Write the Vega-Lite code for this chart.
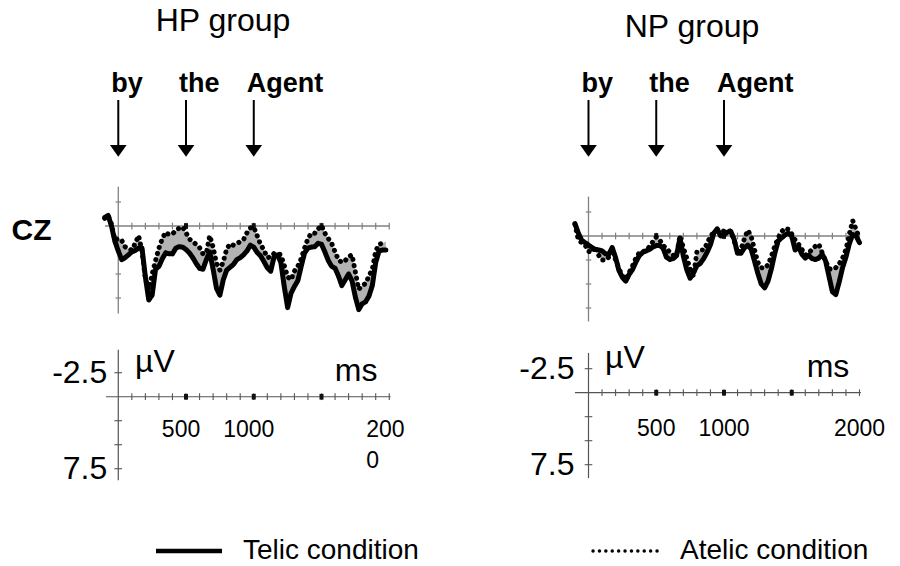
{
  "$schema": "https://vega.github.io/schema/vega-lite/v6.json",
  "padding": 0,
  "background": "white",
  "config": {
    "view": {"stroke": null},
    "font": "Liberation Sans",
    "text": {"font": "Liberation Sans", "color": "black"}
  },
  "datasets": {
    "w": [
      {"g":"HP","ms":-100,"Telic condition":-0.9,"Atelic condition":-0.8},
      {"g":"HP","ms":-75,"Telic condition":-1.1,"Atelic condition":-1.1},
      {"g":"HP","ms":-50,"Telic condition":0.0,"Atelic condition":-0.2},
      {"g":"HP","ms":-25,"Telic condition":1.6,"Atelic condition":1.45},
      {"g":"HP","ms":0,"Telic condition":2.6,"Atelic condition":1.3},
      {"g":"HP","ms":25,"Telic condition":3.5,"Atelic condition":1.5},
      {"g":"HP","ms":50,"Telic condition":3.3,"Atelic condition":2.15},
      {"g":"HP","ms":75,"Telic condition":3.0,"Atelic condition":2.4},
      {"g":"HP","ms":100,"Telic condition":2.7,"Atelic condition":2.5},
      {"g":"HP","ms":125,"Telic condition":2.55,"Atelic condition":1.8},
      {"g":"HP","ms":150,"Telic condition":2.3,"Atelic condition":1.0},
      {"g":"HP","ms":175,"Telic condition":2.3,"Atelic condition":2.6},
      {"g":"HP","ms":200,"Telic condition":5.3,"Atelic condition":5.5},
      {"g":"HP","ms":225,"Telic condition":7.7,"Atelic condition":6.6},
      {"g":"HP","ms":250,"Telic condition":7.2,"Atelic condition":5.0},
      {"g":"HP","ms":275,"Telic condition":4.5,"Atelic condition":3.6},
      {"g":"HP","ms":300,"Telic condition":4.2,"Atelic condition":2.3},
      {"g":"HP","ms":325,"Telic condition":3.4,"Atelic condition":1.3},
      {"g":"HP","ms":350,"Telic condition":2.8,"Atelic condition":0.65},
      {"g":"HP","ms":375,"Telic condition":2.9,"Atelic condition":0.9},
      {"g":"HP","ms":400,"Telic condition":2.9,"Atelic condition":0.8},
      {"g":"HP","ms":425,"Telic condition":2.3,"Atelic condition":0.5},
      {"g":"HP","ms":450,"Telic condition":2.15,"Atelic condition":0.2},
      {"g":"HP","ms":475,"Telic condition":2.2,"Atelic condition":0.1},
      {"g":"HP","ms":500,"Telic condition":2.45,"Atelic condition":0.7},
      {"g":"HP","ms":525,"Telic condition":2.8,"Atelic condition":1.35},
      {"g":"HP","ms":550,"Telic condition":3.3,"Atelic condition":1.65},
      {"g":"HP","ms":575,"Telic condition":3.9,"Atelic condition":1.9},
      {"g":"HP","ms":600,"Telic condition":4.4,"Atelic condition":2.25},
      {"g":"HP","ms":625,"Telic condition":4.5,"Atelic condition":2.9},
      {"g":"HP","ms":650,"Telic condition":3.5,"Atelic condition":2.8},
      {"g":"HP","ms":675,"Telic condition":2.7,"Atelic condition":1.0},
      {"g":"HP","ms":700,"Telic condition":4.5,"Atelic condition":2.2},
      {"g":"HP","ms":725,"Telic condition":6.5,"Atelic condition":3.9},
      {"g":"HP","ms":750,"Telic condition":7.2,"Atelic condition":4.6},
      {"g":"HP","ms":775,"Telic condition":5.6,"Atelic condition":3.7},
      {"g":"HP","ms":800,"Telic condition":4.6,"Atelic condition":2.4},
      {"g":"HP","ms":825,"Telic condition":4.3,"Atelic condition":1.85},
      {"g":"HP","ms":850,"Telic condition":4.0,"Atelic condition":2.0},
      {"g":"HP","ms":875,"Telic condition":3.5,"Atelic condition":1.85},
      {"g":"HP","ms":900,"Telic condition":3.3,"Atelic condition":1.6},
      {"g":"HP","ms":925,"Telic condition":3.0,"Atelic condition":1.4},
      {"g":"HP","ms":950,"Telic condition":2.6,"Atelic condition":0.7},
      {"g":"HP","ms":975,"Telic condition":2.0,"Atelic condition":0.2},
      {"g":"HP","ms":1000,"Telic condition":2.2,"Atelic condition":0.1},
      {"g":"HP","ms":1025,"Telic condition":2.75,"Atelic condition":1.0},
      {"g":"HP","ms":1050,"Telic condition":3.1,"Atelic condition":1.9},
      {"g":"HP","ms":1075,"Telic condition":3.7,"Atelic condition":2.5},
      {"g":"HP","ms":1100,"Telic condition":4.35,"Atelic condition":3.3},
      {"g":"HP","ms":1125,"Telic condition":4.7,"Atelic condition":3.2},
      {"g":"HP","ms":1150,"Telic condition":3.2,"Atelic condition":2.85},
      {"g":"HP","ms":1175,"Telic condition":3.0,"Atelic condition":2.85},
      {"g":"HP","ms":1200,"Telic condition":3.8,"Atelic condition":3.0},
      {"g":"HP","ms":1225,"Telic condition":6.3,"Atelic condition":4.1},
      {"g":"HP","ms":1250,"Telic condition":8.5,"Atelic condition":5.3},
      {"g":"HP","ms":1275,"Telic condition":7.0,"Atelic condition":5.6},
      {"g":"HP","ms":1300,"Telic condition":6.3,"Atelic condition":4.7},
      {"g":"HP","ms":1325,"Telic condition":5.7,"Atelic condition":4.2},
      {"g":"HP","ms":1350,"Telic condition":4.2,"Atelic condition":3.4},
      {"g":"HP","ms":1375,"Telic condition":2.8,"Atelic condition":2.3},
      {"g":"HP","ms":1400,"Telic condition":2.3,"Atelic condition":1.3},
      {"g":"HP","ms":1425,"Telic condition":2.2,"Atelic condition":0.75},
      {"g":"HP","ms":1450,"Telic condition":2.15,"Atelic condition":0.75},
      {"g":"HP","ms":1475,"Telic condition":1.8,"Atelic condition":0.3},
      {"g":"HP","ms":1500,"Telic condition":1.9,"Atelic condition":-0.05},
      {"g":"HP","ms":1525,"Telic condition":2.7,"Atelic condition":0.75},
      {"g":"HP","ms":1550,"Telic condition":3.6,"Atelic condition":1.3},
      {"g":"HP","ms":1575,"Telic condition":4.2,"Atelic condition":1.8},
      {"g":"HP","ms":1600,"Telic condition":4.4,"Atelic condition":2.7},
      {"g":"HP","ms":1625,"Telic condition":5.2,"Atelic condition":3.5},
      {"g":"HP","ms":1650,"Telic condition":6.2,"Atelic condition":3.8},
      {"g":"HP","ms":1675,"Telic condition":5.6,"Atelic condition":3.6},
      {"g":"HP","ms":1700,"Telic condition":5.0,"Atelic condition":3.2},
      {"g":"HP","ms":1725,"Telic condition":5.7,"Atelic condition":3.0},
      {"g":"HP","ms":1750,"Telic condition":7.4,"Atelic condition":4.8},
      {"g":"HP","ms":1775,"Telic condition":8.7,"Atelic condition":6.6},
      {"g":"HP","ms":1800,"Telic condition":8.1,"Atelic condition":6.2},
      {"g":"HP","ms":1825,"Telic condition":7.9,"Atelic condition":6.0},
      {"g":"HP","ms":1850,"Telic condition":7.3,"Atelic condition":5.2},
      {"g":"HP","ms":1875,"Telic condition":6.2,"Atelic condition":4.5},
      {"g":"HP","ms":1900,"Telic condition":3.8,"Atelic condition":2.6},
      {"g":"HP","ms":1925,"Telic condition":2.6,"Atelic condition":1.9},
      {"g":"HP","ms":1950,"Telic condition":2.5,"Atelic condition":1.8},
      {"g":"HP","ms":1975,"Telic condition":2.5,"Atelic condition":1.6},
      {"g":"NP","ms":-100,"Telic condition":-1.3,"Atelic condition":-1.2},
      {"g":"NP","ms":-75,"Telic condition":-0.3,"Atelic condition":0.4},
      {"g":"NP","ms":-50,"Telic condition":0.45,"Atelic condition":0.7},
      {"g":"NP","ms":-25,"Telic condition":0.7,"Atelic condition":0.94},
      {"g":"NP","ms":0,"Telic condition":0.94,"Atelic condition":1.6},
      {"g":"NP","ms":25,"Telic condition":1.2,"Atelic condition":1.7},
      {"g":"NP","ms":50,"Telic condition":1.4,"Atelic condition":1.1},
      {"g":"NP","ms":75,"Telic condition":1.46,"Atelic condition":2.0},
      {"g":"NP","ms":100,"Telic condition":1.55,"Atelic condition":2.5},
      {"g":"NP","ms":125,"Telic condition":1.85,"Atelic condition":2.5},
      {"g":"NP","ms":150,"Telic condition":1.9,"Atelic condition":2.2},
      {"g":"NP","ms":175,"Telic condition":1.2,"Atelic condition":1.4},
      {"g":"NP","ms":200,"Telic condition":2.25,"Atelic condition":2.5},
      {"g":"NP","ms":225,"Telic condition":3.6,"Atelic condition":3.4},
      {"g":"NP","ms":250,"Telic condition":4.3,"Atelic condition":4.15},
      {"g":"NP","ms":275,"Telic condition":4.7,"Atelic condition":4.5},
      {"g":"NP","ms":300,"Telic condition":4.0,"Atelic condition":3.8},
      {"g":"NP","ms":325,"Telic condition":3.5,"Atelic condition":3.1},
      {"g":"NP","ms":350,"Telic condition":2.7,"Atelic condition":2.3},
      {"g":"NP","ms":375,"Telic condition":2.05,"Atelic condition":1.75},
      {"g":"NP","ms":400,"Telic condition":1.7,"Atelic condition":1.6},
      {"g":"NP","ms":425,"Telic condition":1.55,"Atelic condition":1.55},
      {"g":"NP","ms":450,"Telic condition":1.4,"Atelic condition":1.1},
      {"g":"NP","ms":475,"Telic condition":1.15,"Atelic condition":0.6},
      {"g":"NP","ms":500,"Telic condition":1.0,"Atelic condition":0.1},
      {"g":"NP","ms":525,"Telic condition":1.0,"Atelic condition":0.4},
      {"g":"NP","ms":550,"Telic condition":1.25,"Atelic condition":1.0},
      {"g":"NP","ms":575,"Telic condition":2.2,"Atelic condition":1.25},
      {"g":"NP","ms":600,"Telic condition":2.45,"Atelic condition":1.7},
      {"g":"NP","ms":625,"Telic condition":2.35,"Atelic condition":2.0},
      {"g":"NP","ms":650,"Telic condition":2.05,"Atelic condition":2.0},
      {"g":"NP","ms":675,"Telic condition":0.2,"Atelic condition":0.0},
      {"g":"NP","ms":700,"Telic condition":2.1,"Atelic condition":1.2},
      {"g":"NP","ms":725,"Telic condition":3.5,"Atelic condition":2.3},
      {"g":"NP","ms":750,"Telic condition":4.4,"Atelic condition":3.4},
      {"g":"NP","ms":775,"Telic condition":3.8,"Atelic condition":4.2},
      {"g":"NP","ms":800,"Telic condition":3.1,"Atelic condition":1.65},
      {"g":"NP","ms":825,"Telic condition":2.85,"Atelic condition":1.45},
      {"g":"NP","ms":850,"Telic condition":2.35,"Atelic condition":1.46},
      {"g":"NP","ms":875,"Telic condition":1.7,"Atelic condition":0.8},
      {"g":"NP","ms":900,"Telic condition":0.9,"Atelic condition":0.0},
      {"g":"NP","ms":925,"Telic condition":-0.3,"Atelic condition":-0.35},
      {"g":"NP","ms":950,"Telic condition":-0.75,"Atelic condition":-0.55},
      {"g":"NP","ms":975,"Telic condition":0.0,"Atelic condition":-0.6},
      {"g":"NP","ms":1000,"Telic condition":-0.1,"Atelic condition":-0.5},
      {"g":"NP","ms":1025,"Telic condition":-0.4,"Atelic condition":-0.55},
      {"g":"NP","ms":1050,"Telic condition":-0.5,"Atelic condition":-0.5},
      {"g":"NP","ms":1075,"Telic condition":0.35,"Atelic condition":0.45},
      {"g":"NP","ms":1100,"Telic condition":1.8,"Atelic condition":1.75},
      {"g":"NP","ms":1125,"Telic condition":1.8,"Atelic condition":1.4},
      {"g":"NP","ms":1150,"Telic condition":1.25,"Atelic condition":0.3},
      {"g":"NP","ms":1175,"Telic condition":0.95,"Atelic condition":-0.6},
      {"g":"NP","ms":1200,"Telic condition":1.35,"Atelic condition":0.0},
      {"g":"NP","ms":1225,"Telic condition":2.6,"Atelic condition":1.4},
      {"g":"NP","ms":1250,"Telic condition":3.9,"Atelic condition":2.75},
      {"g":"NP","ms":1275,"Telic condition":5.0,"Atelic condition":3.3},
      {"g":"NP","ms":1300,"Telic condition":5.4,"Atelic condition":3.37},
      {"g":"NP","ms":1325,"Telic condition":4.7,"Atelic condition":3.0},
      {"g":"NP","ms":1350,"Telic condition":3.4,"Atelic condition":2.1},
      {"g":"NP","ms":1375,"Telic condition":1.8,"Atelic condition":1.05},
      {"g":"NP","ms":1400,"Telic condition":0.5,"Atelic condition":0.2},
      {"g":"NP","ms":1425,"Telic condition":0.2,"Atelic condition":-0.45},
      {"g":"NP","ms":1450,"Telic condition":-0.1,"Atelic condition":-0.8},
      {"g":"NP","ms":1475,"Telic condition":-0.3,"Atelic condition":-0.7},
      {"g":"NP","ms":1500,"Telic condition":0.0,"Atelic condition":-0.2},
      {"g":"NP","ms":1525,"Telic condition":1.46,"Atelic condition":0.42},
      {"g":"NP","ms":1550,"Telic condition":1.1,"Atelic condition":0.85},
      {"g":"NP","ms":1575,"Telic condition":1.9,"Atelic condition":1.4},
      {"g":"NP","ms":1600,"Telic condition":2.3,"Atelic condition":2.0},
      {"g":"NP","ms":1625,"Telic condition":2.0,"Atelic condition":1.75},
      {"g":"NP","ms":1650,"Telic condition":2.35,"Atelic condition":1.4},
      {"g":"NP","ms":1675,"Telic condition":2.45,"Atelic condition":1.05},
      {"g":"NP","ms":1700,"Telic condition":2.3,"Atelic condition":0.85},
      {"g":"NP","ms":1725,"Telic condition":1.9,"Atelic condition":1.75},
      {"g":"NP","ms":1750,"Telic condition":2.6,"Atelic condition":2.6},
      {"g":"NP","ms":1775,"Telic condition":4.2,"Atelic condition":3.4},
      {"g":"NP","ms":1800,"Telic condition":5.8,"Atelic condition":3.5},
      {"g":"NP","ms":1825,"Telic condition":6.1,"Atelic condition":3.3},
      {"g":"NP","ms":1850,"Telic condition":4.8,"Atelic condition":2.9},
      {"g":"NP","ms":1875,"Telic condition":3.3,"Atelic condition":2.3},
      {"g":"NP","ms":1900,"Telic condition":2.2,"Atelic condition":1.4},
      {"g":"NP","ms":1925,"Telic condition":0.8,"Atelic condition":-0.2},
      {"g":"NP","ms":1950,"Telic condition":-0.15,"Atelic condition":-1.6},
      {"g":"NP","ms":1975,"Telic condition":0.0,"Atelic condition":-0.7},
      {"g":"NP","ms":2000,"Telic condition":0.7,"Atelic condition":0.3}
    ],
    "words": [{"word":"by","ms":0},{"word":"the","ms":500},{"word":"Agent","ms":1000}],
    "xt": [{"ms":100},{"ms":200},{"ms":300},{"ms":400},{"ms":500},{"ms":600},{"ms":700},{"ms":800},{"ms":900},{"ms":1000},{"ms":1100},{"ms":1200},{"ms":1300},{"ms":1400},{"ms":1500},{"ms":1600},{"ms":1700},{"ms":1800},{"ms":1900},{"ms":2000}],
    "bt": [{"ms":500},{"ms":1000},{"ms":1500}],
    "yt": [{"uv":-2.5},{"uv":2.5},{"uv":5},{"uv":7.5}],
    "ylab": [{"uv":-2.5,"label":"-2.5"},{"uv":7.5,"label":"7.5"}],
    "one": [{"k":1}]
  },
  "columns": 2,
  "bounds": "flush",
  "spacing": 0,
  "resolve": {"scale": {"x": "independent", "y": "independent", "strokeDash": "shared"}, "legend": {"strokeDash": "shared"}},
  "concat": [
    {
      "width": 470, "height": 335,
      "layer": [
        {
          "data": {"name": "w"},
          "transform": [{"filter": "datum.g === 'HP'"}],
          "mark": {"type": "area", "color": "#b3b3b3"},
          "encoding": {
            "x": {"field": "ms", "type": "quantitative", "scale": {"domain": [-873, 2596], "nice": false, "zero": false}, "axis": null},
            "y": {"field": "Atelic condition", "type": "quantitative", "scale": {"domain": [-23.54, 11.35], "reverse": true, "nice": false, "zero": false}, "axis": null},
            "y2": {"field": "Telic condition"}
          }
        },
        {
          "data": {"name": "one"},
          "mark": {"type": "rule", "color": "#808080", "strokeWidth": 1.3},
          "encoding": {
            "x": {"datum": 0, "type": "quantitative", "scale": {"domain": [-873, 2596], "nice": false, "zero": false}, "axis": null},
            "y": {"datum": -4.1, "type": "quantitative", "scale": {"domain": [-23.54, 11.35], "reverse": true, "nice": false, "zero": false}, "axis": null},
            "y2": {"datum": 9.1}
          }
        },
        {
          "data": {"name": "one"},
          "mark": {"type": "rule", "color": "#808080", "strokeWidth": 1.3},
          "encoding": {
            "x": {"datum": -98, "type": "quantitative", "scale": {"domain": [-873, 2596], "nice": false, "zero": false}, "axis": null},
            "x2": {"datum": 2000},
            "y": {"datum": 0, "type": "quantitative", "scale": {"domain": [-23.54, 11.35], "reverse": true, "nice": false, "zero": false}, "axis": null}
          }
        },
        {
          "data": {"name": "xt"},
          "mark": {"type": "rule", "color": "#808080", "strokeWidth": 1.2},
          "encoding": {
            "x": {"field": "ms", "type": "quantitative", "scale": {"domain": [-873, 2596], "nice": false, "zero": false}, "axis": null},
            "y": {"datum": -0.35, "type": "quantitative", "scale": {"domain": [-23.54, 11.35], "reverse": true, "nice": false, "zero": false}, "axis": null},
            "y2": {"datum": 0.35}
          }
        },
        {
          "data": {"name": "yt"},
          "mark": {"type": "rule", "color": "#808080", "strokeWidth": 1.2},
          "encoding": {
            "x": {"datum": -20, "type": "quantitative", "scale": {"domain": [-873, 2596], "nice": false, "zero": false}, "axis": null},
            "x2": {"datum": 20},
            "y": {"field": "uv", "type": "quantitative", "scale": {"domain": [-23.54, 11.35], "reverse": true, "nice": false, "zero": false}, "axis": null}
          }
        },
        {
          "data": {"name": "bt"},
          "mark": {"type": "rule", "color": "#111111", "strokeWidth": 4},
          "encoding": {
            "x": {"field": "ms", "type": "quantitative", "scale": {"domain": [-873, 2596], "nice": false, "zero": false}, "axis": null},
            "y": {"datum": -0.3, "type": "quantitative", "scale": {"domain": [-23.54, 11.35], "reverse": true, "nice": false, "zero": false}, "axis": null},
            "y2": {"datum": 0.3}
          }
        },
        {
          "data": {"name": "w"},
          "transform": [{"filter": "datum.g === 'HP'"}, {"fold": ["Telic condition", "Atelic condition"], "as": ["condition", "uv"]}],
          "mark": {"type": "line", "color": "black", "strokeWidth": 5, "strokeCap": "round", "strokeJoin": "round"},
          "encoding": {
            "x": {"field": "ms", "type": "quantitative", "scale": {"domain": [-873, 2596], "nice": false, "zero": false}, "axis": null},
            "y": {"field": "uv", "type": "quantitative", "scale": {"domain": [-23.54, 11.35], "reverse": true, "nice": false, "zero": false}, "axis": null},
            "strokeDash": {
              "field": "condition", "type": "nominal",
              "scale": {"domain": ["Telic condition", "Atelic condition"], "range": [[1, 0], [0.1, 6.3]]},
              "legend": {
                "title": null, "orient": "none", "legendX": 175, "legendY": 537,
                "direction": "horizontal", "symbolType": "stroke", "symbolSize": 4356,
                "symbolStrokeWidth": 4.2, "symbolStrokeColor": "black",
                "labelFont": "Liberation Sans", "labelFontSize": 28, "labelColor": "black",
                "labelOffset": 40, "labelLimit": 400, "columnPadding": 167, "padding": 0,
                "encode": {"symbols": {"update": {
                  "strokeDash": {"signal": "datum.value === 'Atelic condition' ? [0.1, 10.6] : [1, 0]"},
                  "strokeWidth": {"signal": "datum.value === 'Atelic condition' ? 3.4 : 4.4"},
                  "strokeCap": {"signal": "datum.value === 'Atelic condition' ? 'round' : 'butt'"}
                }}}
              }
            }
          }
        },
        {
          "data": {"name": "words"},
          "mark": {"type": "rule", "color": "black", "strokeWidth": 2},
          "encoding": {
            "x": {"field": "ms", "type": "quantitative", "scale": {"domain": [-873, 2596], "nice": false, "zero": false}, "axis": null},
            "y": {"datum": -13.125, "type": "quantitative", "scale": {"domain": [-23.54, 11.35], "reverse": true, "nice": false, "zero": false}, "axis": null},
            "y2": {"datum": -8.4}
          }
        },
        {
          "data": {"name": "words"},
          "mark": {"type": "point", "shape": "M-1,-0.7L1,-0.7L0,0.7Z", "filled": true, "color": "black", "size": 279, "opacity": 1},
          "encoding": {
            "x": {"field": "ms", "type": "quantitative", "scale": {"domain": [-873, 2596], "nice": false, "zero": false}, "axis": null},
            "y": {"datum": -7.83, "type": "quantitative", "scale": {"domain": [-23.54, 11.35], "reverse": true, "nice": false, "zero": false}, "axis": null}
          }
        },
        {
          "data": {"name": "words"},
          "mark": {"type": "text", "fontWeight": "bold", "fontSize": 27, "align": "left", "baseline": "alphabetic", "dx": -7, "color": "black"},
          "encoding": {
            "x": {"field": "ms", "type": "quantitative", "scale": {"domain": [-873, 2596], "nice": false, "zero": false}, "axis": null},
            "y": {"datum": -13.99, "type": "quantitative", "scale": {"domain": [-23.54, 11.35], "reverse": true, "nice": false, "zero": false}, "axis": null},
            "text": {"field": "word"}
          }
        },
        {
          "data": {"values": [{"label": "HP group"}]},
          "mark": {"type": "text", "fontSize": 32, "align": "center", "baseline": "alphabetic", "color": "black"},
          "encoding": {
            "x": {"datum": 773, "type": "quantitative", "scale": {"domain": [-873, 2596], "nice": false, "zero": false}, "axis": null},
            "y": {"datum": -20.36, "type": "quantitative", "scale": {"domain": [-23.54, 11.35], "reverse": true, "nice": false, "zero": false}, "axis": null},
            "text": {"field": "label"}
          }
        },
        {
          "data": {"values": [{"label": "CZ"}]},
          "mark": {"type": "text", "fontSize": 30, "fontWeight": "bold", "align": "center", "baseline": "alphabetic", "color": "black"},
          "encoding": {
            "x": {"datum": -640, "type": "quantitative", "scale": {"domain": [-873, 2596], "nice": false, "zero": false}, "axis": null},
            "y": {"datum": 1.46, "type": "quantitative", "scale": {"domain": [-23.54, 11.35], "reverse": true, "nice": false, "zero": false}, "axis": null},
            "text": {"field": "label"}
          }
        }
      ]
    },
    {
      "width": 430, "height": 335,
      "layer": [
        {
          "data": {"name": "w"},
          "transform": [{"filter": "datum.g === 'NP'"}],
          "mark": {"type": "area", "color": "#b3b3b3"},
          "encoding": {
            "x": {"field": "ms", "type": "quantitative", "scale": {"domain": [-874.5, 2299], "nice": false, "zero": false}, "axis": null},
            "y": {"field": "Atelic condition", "type": "quantitative", "scale": {"domain": [-24.58, 10.31], "reverse": true, "nice": false, "zero": false}, "axis": null},
            "y2": {"field": "Telic condition"}
          }
        },
        {
          "data": {"name": "one"},
          "mark": {"type": "rule", "color": "#808080", "strokeWidth": 1.3},
          "encoding": {
            "x": {"datum": 0, "type": "quantitative", "scale": {"domain": [-874.5, 2299], "nice": false, "zero": false}, "axis": null},
            "y": {"datum": -4.1, "type": "quantitative", "scale": {"domain": [-24.58, 10.31], "reverse": true, "nice": false, "zero": false}, "axis": null},
            "y2": {"datum": 8.9}
          }
        },
        {
          "data": {"name": "one"},
          "mark": {"type": "rule", "color": "#808080", "strokeWidth": 1.3},
          "encoding": {
            "x": {"datum": -100, "type": "quantitative", "scale": {"domain": [-874.5, 2299], "nice": false, "zero": false}, "axis": null},
            "x2": {"datum": 2000},
            "y": {"datum": 0, "type": "quantitative", "scale": {"domain": [-24.58, 10.31], "reverse": true, "nice": false, "zero": false}, "axis": null}
          }
        },
        {
          "data": {"name": "xt"},
          "mark": {"type": "rule", "color": "#808080", "strokeWidth": 1.2},
          "encoding": {
            "x": {"field": "ms", "type": "quantitative", "scale": {"domain": [-874.5, 2299], "nice": false, "zero": false}, "axis": null},
            "y": {"datum": -0.35, "type": "quantitative", "scale": {"domain": [-24.58, 10.31], "reverse": true, "nice": false, "zero": false}, "axis": null},
            "y2": {"datum": 0.35}
          }
        },
        {
          "data": {"name": "yt"},
          "mark": {"type": "rule", "color": "#808080", "strokeWidth": 1.2},
          "encoding": {
            "x": {"datum": -20, "type": "quantitative", "scale": {"domain": [-874.5, 2299], "nice": false, "zero": false}, "axis": null},
            "x2": {"datum": 20},
            "y": {"field": "uv", "type": "quantitative", "scale": {"domain": [-24.58, 10.31], "reverse": true, "nice": false, "zero": false}, "axis": null}
          }
        },
        {
          "data": {"name": "bt"},
          "mark": {"type": "rule", "color": "#111111", "strokeWidth": 4},
          "encoding": {
            "x": {"field": "ms", "type": "quantitative", "scale": {"domain": [-874.5, 2299], "nice": false, "zero": false}, "axis": null},
            "y": {"datum": -0.3, "type": "quantitative", "scale": {"domain": [-24.58, 10.31], "reverse": true, "nice": false, "zero": false}, "axis": null},
            "y2": {"datum": 0.3}
          }
        },
        {
          "data": {"name": "w"},
          "transform": [{"filter": "datum.g === 'NP'"}, {"fold": ["Telic condition", "Atelic condition"], "as": ["condition", "uv"]}],
          "mark": {"type": "line", "color": "black", "strokeWidth": 5, "strokeCap": "round", "strokeJoin": "round"},
          "encoding": {
            "x": {"field": "ms", "type": "quantitative", "scale": {"domain": [-874.5, 2299], "nice": false, "zero": false}, "axis": null},
            "y": {"field": "uv", "type": "quantitative", "scale": {"domain": [-24.58, 10.31], "reverse": true, "nice": false, "zero": false}, "axis": null},
            "strokeDash": {"field": "condition", "type": "nominal", "scale": {"domain": ["Telic condition", "Atelic condition"], "range": [[1, 0], [0.1, 6.3]]}}
          }
        },
        {
          "data": {"name": "words"},
          "mark": {"type": "rule", "color": "black", "strokeWidth": 2},
          "encoding": {
            "x": {"field": "ms", "type": "quantitative", "scale": {"domain": [-874.5, 2299], "nice": false, "zero": false}, "axis": null},
            "y": {"datum": -14.17, "type": "quantitative", "scale": {"domain": [-24.58, 10.31], "reverse": true, "nice": false, "zero": false}, "axis": null},
            "y2": {"datum": -9.44}
          }
        },
        {
          "data": {"name": "words"},
          "mark": {"type": "point", "shape": "M-1,-0.7L1,-0.7L0,0.7Z", "filled": true, "color": "black", "size": 279, "opacity": 1},
          "encoding": {
            "x": {"field": "ms", "type": "quantitative", "scale": {"domain": [-874.5, 2299], "nice": false, "zero": false}, "axis": null},
            "y": {"datum": -8.87, "type": "quantitative", "scale": {"domain": [-24.58, 10.31], "reverse": true, "nice": false, "zero": false}, "axis": null}
          }
        },
        {
          "data": {"name": "words"},
          "mark": {"type": "text", "fontWeight": "bold", "fontSize": 27, "align": "left", "baseline": "alphabetic", "dx": -7, "color": "black"},
          "encoding": {
            "x": {"field": "ms", "type": "quantitative", "scale": {"domain": [-874.5, 2299], "nice": false, "zero": false}, "axis": null},
            "y": {"datum": -15.03, "type": "quantitative", "scale": {"domain": [-24.58, 10.31], "reverse": true, "nice": false, "zero": false}, "axis": null},
            "text": {"field": "word"}
          }
        },
        {
          "data": {"values": [{"label": "NP group"}]},
          "mark": {"type": "text", "fontSize": 32, "align": "center", "baseline": "alphabetic", "color": "black"},
          "encoding": {
            "x": {"datum": 764, "type": "quantitative", "scale": {"domain": [-874.5, 2299], "nice": false, "zero": false}, "axis": null},
            "y": {"datum": -20.76, "type": "quantitative", "scale": {"domain": [-24.58, 10.31], "reverse": true, "nice": false, "zero": false}, "axis": null},
            "text": {"field": "label"}
          }
        }
      ]
    },
    {
      "width": 470, "height": 231,
      "layer": [
        {
          "data": {"name": "one"},
          "mark": {"type": "rule", "color": "#555555", "strokeWidth": 1.2},
          "encoding": {
            "x": {"datum": 0, "type": "quantitative", "scale": {"domain": [-873, 2596], "nice": false, "zero": false}, "axis": null},
            "y": {"datum": -4.9, "type": "quantitative", "scale": {"domain": [-6.43, 17.63], "reverse": true, "nice": false, "zero": false}, "axis": null},
            "y2": {"datum": 8.7}
          }
        },
        {
          "data": {"name": "one"},
          "mark": {"type": "rule", "color": "#555555", "strokeWidth": 1.2},
          "encoding": {
            "x": {"datum": -91, "type": "quantitative", "scale": {"domain": [-873, 2596], "nice": false, "zero": false}, "axis": null},
            "x2": {"datum": 2010},
            "y": {"datum": 0, "type": "quantitative", "scale": {"domain": [-6.43, 17.63], "reverse": true, "nice": false, "zero": false}, "axis": null}
          }
        },
        {
          "data": {"name": "xt"},
          "mark": {"type": "rule", "color": "#555555", "strokeWidth": 1.1},
          "encoding": {
            "x": {"field": "ms", "type": "quantitative", "scale": {"domain": [-873, 2596], "nice": false, "zero": false}, "axis": null},
            "y": {"datum": -0.35, "type": "quantitative", "scale": {"domain": [-6.43, 17.63], "reverse": true, "nice": false, "zero": false}, "axis": null},
            "y2": {"datum": 0.35}
          }
        },
        {
          "data": {"name": "yt"},
          "mark": {"type": "rule", "color": "#555555", "strokeWidth": 1.1},
          "encoding": {
            "x": {"datum": -28, "type": "quantitative", "scale": {"domain": [-873, 2596], "nice": false, "zero": false}, "axis": null},
            "x2": {"datum": 28},
            "y": {"field": "uv", "type": "quantitative", "scale": {"domain": [-6.43, 17.63], "reverse": true, "nice": false, "zero": false}, "axis": null}
          }
        },
        {
          "data": {"name": "bt"},
          "mark": {"type": "rule", "color": "#111111", "strokeWidth": 4},
          "encoding": {
            "x": {"field": "ms", "type": "quantitative", "scale": {"domain": [-873, 2596], "nice": false, "zero": false}, "axis": null},
            "y": {"datum": -0.3, "type": "quantitative", "scale": {"domain": [-6.43, 17.63], "reverse": true, "nice": false, "zero": false}, "axis": null},
            "y2": {"datum": 0.3}
          }
        },
        {
          "data": {"name": "ylab"},
          "mark": {"type": "text", "fontSize": 32, "align": "right", "baseline": "middle", "dx": -11, "color": "black"},
          "encoding": {
            "x": {"datum": 0, "type": "quantitative", "scale": {"domain": [-873, 2596], "nice": false, "zero": false}, "axis": null},
            "y": {"field": "uv", "type": "quantitative", "scale": {"domain": [-6.43, 17.63], "reverse": true, "nice": false, "zero": false}, "axis": null},
            "text": {"field": "label"}
          }
        },
        {
          "data": {"values": [{"label": "µV"}]},
          "mark": {"type": "text", "fontSize": 32, "align": "left", "baseline": "alphabetic", "color": "black"},
          "encoding": {
            "x": {"datum": 123, "type": "quantitative", "scale": {"domain": [-873, 2596], "nice": false, "zero": false}, "axis": null},
            "y": {"datum": -2.6, "type": "quantitative", "scale": {"domain": [-6.43, 17.63], "reverse": true, "nice": false, "zero": false}, "axis": null},
            "text": {"field": "label"}
          }
        },
        {
          "data": {"values": [{"label": "ms"}]},
          "mark": {"type": "text", "fontSize": 32, "align": "left", "baseline": "alphabetic", "color": "black"},
          "encoding": {
            "x": {"datum": 1598, "type": "quantitative", "scale": {"domain": [-873, 2596], "nice": false, "zero": false}, "axis": null},
            "y": {"datum": -1.67, "type": "quantitative", "scale": {"domain": [-6.43, 17.63], "reverse": true, "nice": false, "zero": false}, "axis": null},
            "text": {"field": "label"}
          }
        },
        {
          "data": {"values": [{"ms": 500, "label": "500"}, {"ms": 1000, "label": "1000"}]},
          "mark": {"type": "text", "fontSize": 23, "align": "center", "baseline": "alphabetic", "dx": -5, "color": "black"},
          "encoding": {
            "x": {"field": "ms", "type": "quantitative", "scale": {"domain": [-873, 2596], "nice": false, "zero": false}, "axis": null},
            "y": {"datum": 4.17, "type": "quantitative", "scale": {"domain": [-6.43, 17.63], "reverse": true, "nice": false, "zero": false}, "axis": null},
            "text": {"field": "label"}
          }
        },
        {
          "data": {"values": [{"ms": 2000, "label": "200\n0"}]},
          "mark": {"type": "text", "fontSize": 23, "align": "left", "baseline": "alphabetic", "dx": -23, "lineBreak": "\n", "lineHeight": 31.6, "color": "black"},
          "encoding": {
            "x": {"field": "ms", "type": "quantitative", "scale": {"domain": [-873, 2596], "nice": false, "zero": false}, "axis": null},
            "y": {"datum": 4.17, "type": "quantitative", "scale": {"domain": [-6.43, 17.63], "reverse": true, "nice": false, "zero": false}, "axis": null},
            "text": {"field": "label"}
          }
        }
      ]
    },
    {
      "width": 430, "height": 231,
      "layer": [
        {
          "data": {"name": "one"},
          "mark": {"type": "rule", "color": "#555555", "strokeWidth": 1.2},
          "encoding": {
            "x": {"datum": 0, "type": "quantitative", "scale": {"domain": [-874.5, 2299], "nice": false, "zero": false}, "axis": null},
            "y": {"datum": -4.14, "type": "quantitative", "scale": {"domain": [-6.01, 18.05], "reverse": true, "nice": false, "zero": false}, "axis": null},
            "y2": {"datum": 8.9}
          }
        },
        {
          "data": {"name": "one"},
          "mark": {"type": "rule", "color": "#555555", "strokeWidth": 1.2},
          "encoding": {
            "x": {"datum": -100, "type": "quantitative", "scale": {"domain": [-874.5, 2299], "nice": false, "zero": false}, "axis": null},
            "x2": {"datum": 2010},
            "y": {"datum": 0, "type": "quantitative", "scale": {"domain": [-6.01, 18.05], "reverse": true, "nice": false, "zero": false}, "axis": null}
          }
        },
        {
          "data": {"name": "xt"},
          "mark": {"type": "rule", "color": "#555555", "strokeWidth": 1.1},
          "encoding": {
            "x": {"field": "ms", "type": "quantitative", "scale": {"domain": [-874.5, 2299], "nice": false, "zero": false}, "axis": null},
            "y": {"datum": -0.35, "type": "quantitative", "scale": {"domain": [-6.01, 18.05], "reverse": true, "nice": false, "zero": false}, "axis": null},
            "y2": {"datum": 0.35}
          }
        },
        {
          "data": {"name": "yt"},
          "mark": {"type": "rule", "color": "#555555", "strokeWidth": 1.1},
          "encoding": {
            "x": {"datum": -28, "type": "quantitative", "scale": {"domain": [-874.5, 2299], "nice": false, "zero": false}, "axis": null},
            "x2": {"datum": 28},
            "y": {"field": "uv", "type": "quantitative", "scale": {"domain": [-6.01, 18.05], "reverse": true, "nice": false, "zero": false}, "axis": null}
          }
        },
        {
          "data": {"name": "bt"},
          "mark": {"type": "rule", "color": "#111111", "strokeWidth": 4},
          "encoding": {
            "x": {"field": "ms", "type": "quantitative", "scale": {"domain": [-874.5, 2299], "nice": false, "zero": false}, "axis": null},
            "y": {"datum": -0.3, "type": "quantitative", "scale": {"domain": [-6.01, 18.05], "reverse": true, "nice": false, "zero": false}, "axis": null},
            "y2": {"datum": 0.3}
          }
        },
        {
          "data": {"name": "ylab"},
          "mark": {"type": "text", "fontSize": 32, "align": "right", "baseline": "middle", "dx": -14, "color": "black"},
          "encoding": {
            "x": {"datum": 0, "type": "quantitative", "scale": {"domain": [-874.5, 2299], "nice": false, "zero": false}, "axis": null},
            "y": {"field": "uv", "type": "quantitative", "scale": {"domain": [-6.01, 18.05], "reverse": true, "nice": false, "zero": false}, "axis": null},
            "text": {"field": "label"}
          }
        },
        {
          "data": {"values": [{"label": "µV"}]},
          "mark": {"type": "text", "fontSize": 32, "align": "left", "baseline": "alphabetic", "color": "black"},
          "encoding": {
            "x": {"datum": 122, "type": "quantitative", "scale": {"domain": [-874.5, 2299], "nice": false, "zero": false}, "axis": null},
            "y": {"datum": -2.54, "type": "quantitative", "scale": {"domain": [-6.01, 18.05], "reverse": true, "nice": false, "zero": false}, "axis": null},
            "text": {"field": "label"}
          }
        },
        {
          "data": {"values": [{"label": "ms"}]},
          "mark": {"type": "text", "fontSize": 32, "align": "left", "baseline": "alphabetic", "color": "black"},
          "encoding": {
            "x": {"datum": 1610, "type": "quantitative", "scale": {"domain": [-874.5, 2299], "nice": false, "zero": false}, "axis": null},
            "y": {"datum": -1.6, "type": "quantitative", "scale": {"domain": [-6.01, 18.05], "reverse": true, "nice": false, "zero": false}, "axis": null},
            "text": {"field": "label"}
          }
        },
        {
          "data": {"values": [{"ms": 500, "label": "500"}, {"ms": 1000, "label": "1000"}, {"ms": 2000, "label": "2000"}]},
          "mark": {"type": "text", "fontSize": 23, "align": "center", "baseline": "alphabetic", "color": "black"},
          "encoding": {
            "x": {"field": "ms", "type": "quantitative", "scale": {"domain": [-874.5, 2299], "nice": false, "zero": false}, "axis": null},
            "y": {"datum": 4.46, "type": "quantitative", "scale": {"domain": [-6.01, 18.05], "reverse": true, "nice": false, "zero": false}, "axis": null},
            "text": {"field": "label"}
          }
        }
      ]
    }
  ]
}
